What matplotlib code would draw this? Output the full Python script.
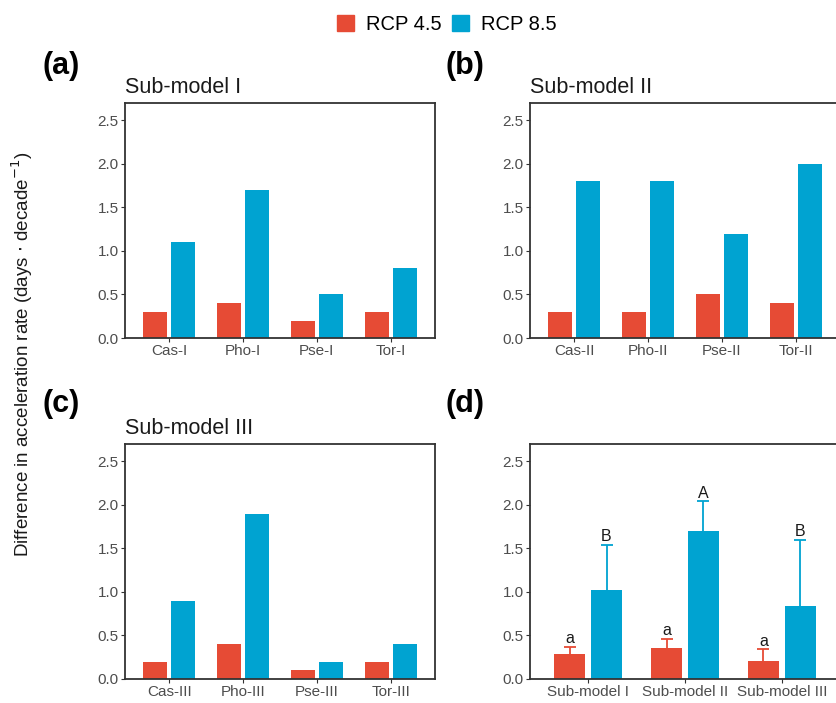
import numpy as np
import matplotlib
matplotlib.use("Agg")
import matplotlib.pyplot as plt
from matplotlib.patches import Patch

plt.rcParams['font.family'] = ['Liberation Sans', 'DejaVu Sans']

# data
cats_1 = ['Cas-I', 'Pho-I', 'Pse-I', 'Tor-I']
cats_2 = ['Cas-II', 'Pho-II', 'Pse-II', 'Tor-II']
cats_3 = ['Cas-III', 'Pho-III', 'Pse-III', 'Tor-III']
cats_4 = ['Sub-model I', 'Sub-model II', 'Sub-model III']

rcp45_1 = [0.3, 0.4, 0.2, 0.3]
rcp85_1 = [1.1, 1.7, 0.5, 0.8]
rcp45_2 = [0.3, 0.3, 0.5, 0.4]
rcp85_2 = [1.8, 1.8, 1.2, 2.0]
rcp45_3 = [0.2, 0.4, 0.1, 0.2]
rcp85_3 = [0.9, 1.9, 0.2, 0.4]

mean45 = [0.29, 0.36, 0.21]
mean85 = [1.02, 1.70, 0.84]
upper45 = [0.37, 0.46, 0.34]
upper85 = [1.54, 2.04, 1.60]
letters45 = ['a', 'a', 'a']
letters85 = ['B', 'A', 'B']

titles = ['Sub-model I', 'Sub-model II', 'Sub-model III']
red = '#E64B35'
blue = '#00A3D1'
dark = '#333333'

W, H = 836, 703
fig = plt.figure(figsize=(W / 100, H / 100), dpi=100)

def px_axes(left, top, w, h):
    return fig.add_axes([left / W, 1 - (top + h) / H, w / W, h / H])

def style(ax, ncat):
    ax.set_ylim(0, 2.7)
    ax.set_xlim(0.4, ncat + 0.6)
    ax.set_yticks([0, 0.5, 1.0, 1.5, 2.0, 2.5])
    ax.set_yticklabels(['0.0', '0.5', '1.0', '1.5', '2.0', '2.5'])
    for s in ax.spines.values():
        s.set_color(dark)
        s.set_linewidth(1.3)
    ax.tick_params(colors=dark, labelcolor='#4D4D4D', labelsize=11,
                   length=3, width=0.8, pad=1.5)

off = 0.19
bw = 0.33

panels = [
    (px_axes(125, 103, 310, 235), cats_1, rcp45_1, rcp85_1, titles[0]),
    (px_axes(530, 103, 310, 235), cats_2, rcp45_2, rcp85_2, titles[1]),
    (px_axes(125, 444, 310, 235), cats_3, rcp45_3, rcp85_3, titles[2]),
]
for ax, cats, v45, v85, title in panels:
    x = np.arange(1, len(cats) + 1)
    ax.bar(x - off, v45, bw, color=red)
    ax.bar(x + off, v85, bw, color=blue)
    ax.set_xticks(x)
    ax.set_xticklabels(cats)
    style(ax, len(cats))
    ax.set_title(title, loc='left', fontsize=15.5, pad=7, color='#1A1A1A')

# panel d: bars with upper-only error bars
axd = px_axes(530, 444, 310, 235)
x = np.arange(1, len(cats_4) + 1)
bw4 = 0.32
cap = 0.062
for xs, m, up, col, lets in [(x - off, mean45, upper45, red, letters45),
                             (x + off, mean85, upper85, blue, letters85)]:
    axd.vlines(xs, m, up, color=col, lw=1.3, zorder=1)
    axd.hlines(up, xs - cap, xs + cap, color=col, lw=1.3, zorder=1)
    axd.bar(xs, m, bw4, color=col, zorder=2)
    for xi, u, t in zip(xs, up, lets):
        axd.text(xi, u + 0.01, t, ha='center', va='bottom',
                 fontsize=11.5, color='#1A1A1A')
axd.set_xticks(x)
axd.set_xticklabels(cats_4)
style(axd, len(cats_4))

# panel letters
for lab, px, py in [('(a)', 42, 66), ('(b)', 446, 66), ('(c)', 42, 404), ('(d)', 446, 404)]:
    fig.text(px / W, 1 - py / H, lab, fontsize=22, fontweight='bold',
             ha='left', va='center')

fig.text(22 / W, 1 - 354 / H,
         'Difference in acceleration rate (days $\\cdot$ decade$^{-1}$)',
         rotation=90, ha='center', va='center', fontsize=13.5, color='#1A1A1A')

handles = [Patch(color=red, label='RCP 4.5'), Patch(color=blue, label='RCP 8.5')]
fig.legend(handles=handles, loc='upper center', bbox_to_anchor=(447 / W, 1.005),
           ncol=2, frameon=False, fontsize=14.5, handlelength=0.85,
           handleheight=0.85, handletextpad=0.6, columnspacing=0.5)

fig.savefig('out.png', dpi=100)
